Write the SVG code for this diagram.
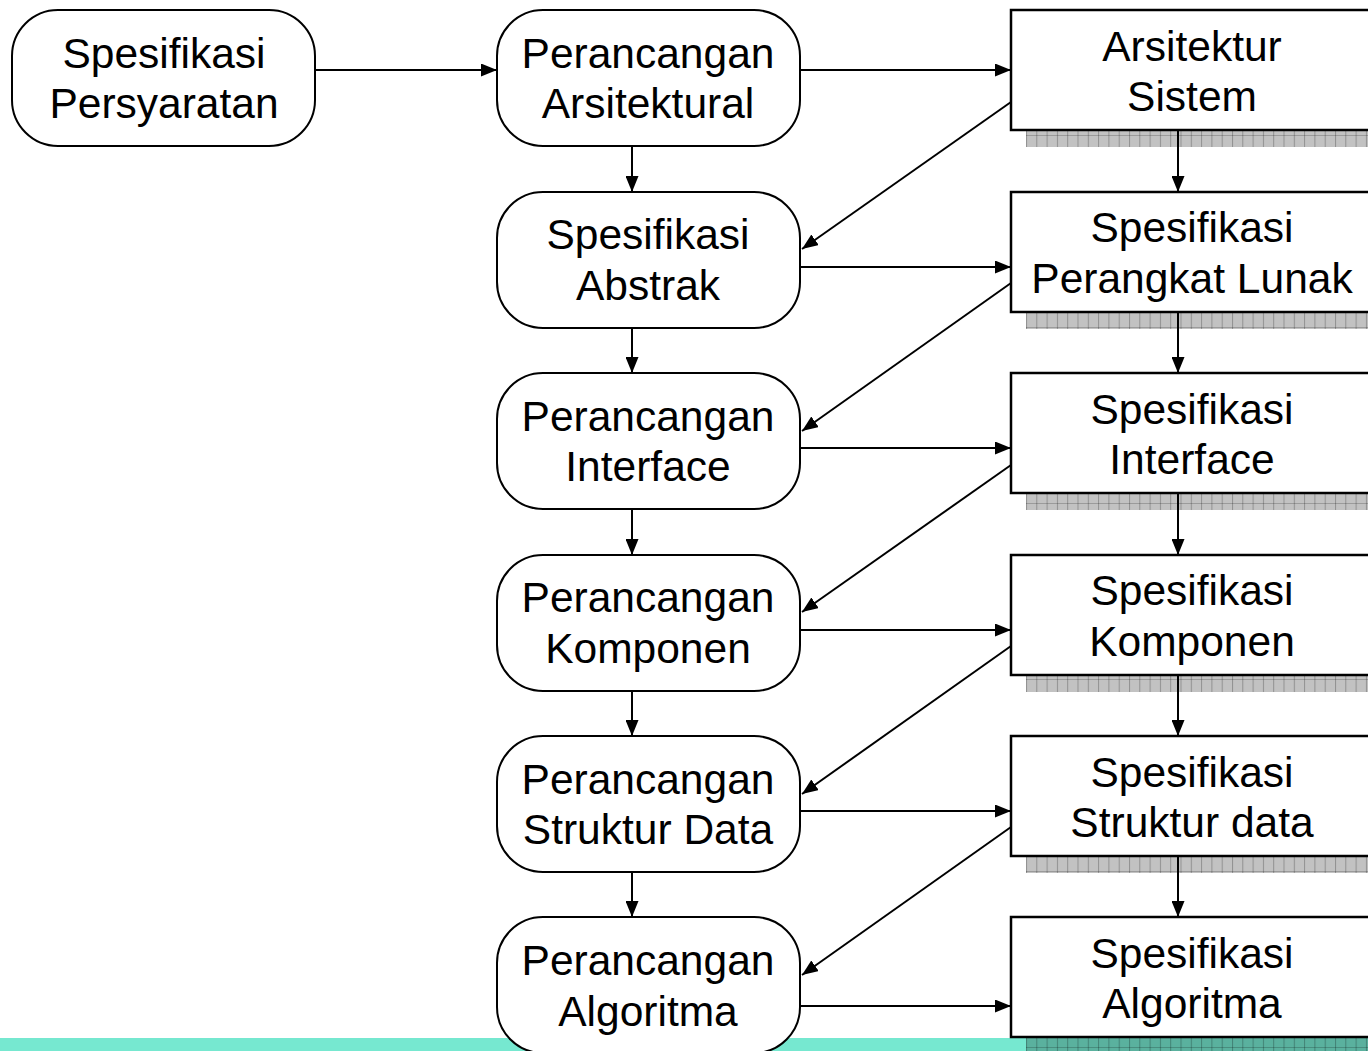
<svg xmlns="http://www.w3.org/2000/svg" width="1368" height="1051" viewBox="0 0 1368 1051">
<style>
.rnd{fill:#fff;stroke:#000;stroke-width:2}
.box{fill:#fff;stroke:#000;stroke-width:2.5}
.t{font-family:"Liberation Sans",Arial,sans-serif;font-size:42.5px;fill:#000;text-anchor:middle}
.c{stroke:#000;stroke-width:2;fill:none;marker-end:url(#ah)}
.sh{fill:url(#grid)}
</style>
<defs>
<marker id="ah" viewBox="0 0 16 13" refX="16" refY="6.5" markerWidth="16" markerHeight="13" markerUnits="userSpaceOnUse" orient="auto">
<path d="M0,0 L16,6.5 L0,13 Z" fill="#000"/>
</marker>
<pattern id="grid" x="1026" y="0" width="10.3" height="16" patternUnits="userSpaceOnUse">
<rect width="10.3" height="16" fill="#000" fill-opacity="0.24"/>
<rect x="0" y="0" width="1" height="16" fill="#000" fill-opacity="0.25"/>
<rect x="0" y="7" width="10.3" height="1" fill="#000" fill-opacity="0.2"/>
</pattern>
</defs>
<rect x="0" y="1038" width="1368" height="13" fill="#76E8D0"/>
<g id="shadows">
<rect class="sh" x="1026" y="131" width="342" height="16"/>
<rect class="sh" x="1026" y="313" width="342" height="16"/>
<rect class="sh" x="1026" y="494" width="342" height="16"/>
<rect class="sh" x="1026" y="676" width="342" height="16"/>
<rect class="sh" x="1026" y="857" width="342" height="16"/>
<rect class="sh" x="1026" y="1038" width="342" height="16"/>
</g>
<g id="connectors">
<line class="c" x1="316" y1="70" x2="497" y2="70"/>
<line class="c" x1="800" y1="70" x2="1011" y2="70"/>
<line class="c" x1="800" y1="267" x2="1011" y2="267"/>
<line class="c" x1="800" y1="448" x2="1011" y2="448"/>
<line class="c" x1="800" y1="630" x2="1011" y2="630"/>
<line class="c" x1="800" y1="811" x2="1011" y2="811"/>
<line class="c" x1="800" y1="1006" x2="1011" y2="1006"/>
<line class="c" x1="632" y1="146" x2="632" y2="192"/>
<line class="c" x1="632" y1="328" x2="632" y2="373"/>
<line class="c" x1="632" y1="509" x2="632" y2="555"/>
<line class="c" x1="632" y1="691" x2="632" y2="736"/>
<line class="c" x1="632" y1="872" x2="632" y2="917"/>
<line class="c" x1="1178" y1="130" x2="1178" y2="192"/>
<line class="c" x1="1178" y1="312" x2="1178" y2="373"/>
<line class="c" x1="1178" y1="493" x2="1178" y2="555"/>
<line class="c" x1="1178" y1="675" x2="1178" y2="736"/>
<line class="c" x1="1178" y1="856" x2="1178" y2="917"/>
<line class="c" x1="1011" y1="102" x2="802" y2="249"/>
<line class="c" x1="1011" y1="283" x2="802" y2="431"/>
<line class="c" x1="1011" y1="465" x2="802" y2="612"/>
<line class="c" x1="1011" y1="646" x2="802" y2="794"/>
<line class="c" x1="1011" y1="827" x2="802" y2="975"/>
</g>
<g id="n-spesifikasi-persyaratan">
<rect class="rnd" x="12" y="10" width="303" height="136" rx="46" ry="46"/>
<text class="t" x="164" y="68">Spesifikasi</text>
<text class="t" x="164" y="118">Persyaratan</text>
</g>
<g id="n-perancangan-arsitektural">
<rect class="rnd" x="497" y="10" width="303" height="136" rx="46" ry="46"/>
<text class="t" x="648" y="68">Perancangan</text>
<text class="t" x="648" y="118">Arsitektural</text>
</g>
<g id="n-spesifikasi-abstrak">
<rect class="rnd" x="497" y="192" width="303" height="136" rx="46" ry="46"/>
<text class="t" x="648" y="249">Spesifikasi</text>
<text class="t" x="648" y="300">Abstrak</text>
</g>
<g id="n-perancangan-interface">
<rect class="rnd" x="497" y="373" width="303" height="136" rx="46" ry="46"/>
<text class="t" x="648" y="431">Perancangan</text>
<text class="t" x="648" y="481">Interface</text>
</g>
<g id="n-perancangan-komponen">
<rect class="rnd" x="497" y="555" width="303" height="136" rx="46" ry="46"/>
<text class="t" x="648" y="612">Perancangan</text>
<text class="t" x="648" y="663">Komponen</text>
</g>
<g id="n-perancangan-struktur-data">
<rect class="rnd" x="497" y="736" width="303" height="136" rx="46" ry="46"/>
<text class="t" x="648" y="794">Perancangan</text>
<text class="t" x="648" y="844">Struktur Data</text>
</g>
<g id="n-perancangan-algoritma">
<rect class="rnd" x="497" y="917" width="303" height="136" rx="46" ry="46"/>
<text class="t" x="648" y="975">Perancangan</text>
<text class="t" x="648" y="1026">Algoritma</text>
</g>
<g id="n-arsitektur-sistem">
<rect class="box" x="1011" y="10" width="370" height="120"/>
<text class="t" x="1192" y="61">Arsitektur</text>
<text class="t" x="1192" y="111">Sistem</text>
</g>
<g id="n-spesifikasi-perangkat-lunak">
<rect class="box" x="1011" y="192" width="370" height="120"/>
<text class="t" x="1192" y="242">Spesifikasi</text>
<text class="t" x="1192" y="293">Perangkat Lunak</text>
</g>
<g id="n-spesifikasi-interface">
<rect class="box" x="1011" y="373" width="370" height="120"/>
<text class="t" x="1192" y="424">Spesifikasi</text>
<text class="t" x="1192" y="474">Interface</text>
</g>
<g id="n-spesifikasi-komponen">
<rect class="box" x="1011" y="555" width="370" height="120"/>
<text class="t" x="1192" y="605">Spesifikasi</text>
<text class="t" x="1192" y="656">Komponen</text>
</g>
<g id="n-spesifikasi-struktur-data">
<rect class="box" x="1011" y="736" width="370" height="120"/>
<text class="t" x="1192" y="787">Spesifikasi</text>
<text class="t" x="1192" y="837">Struktur data</text>
</g>
<g id="n-spesifikasi-algoritma">
<rect class="box" x="1011" y="917" width="370" height="120"/>
<text class="t" x="1192" y="968">Spesifikasi</text>
<text class="t" x="1192" y="1018">Algoritma</text>
</g>
</svg>
